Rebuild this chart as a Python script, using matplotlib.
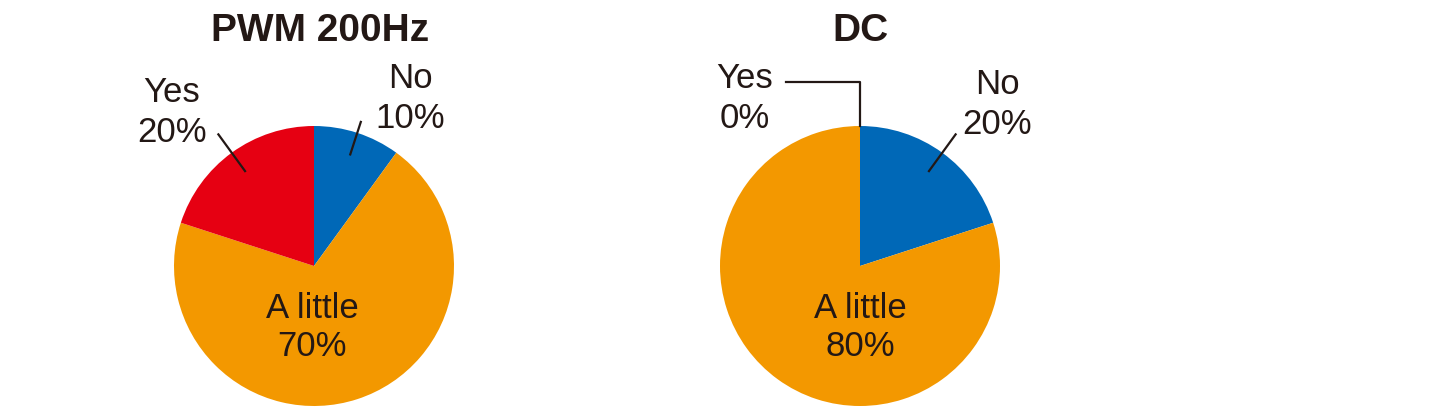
import numpy as np
import matplotlib
matplotlib.use("Agg")
import matplotlib.pyplot as plt

plt.rcParams["font.family"] = ["Liberation Sans", "DejaVu Sans"]

# survey answers, in clockwise order from 12 o'clock
categories = ["No", "A little", "Yes"]
pwm_values = [10, 70, 20]
dc_values = [20, 80, 0]
titles = ["PWM 200Hz", "DC"]

COLORS = ["#0068B7", "#F39800", "#E60012"]
INK = "#231815"
W, H = 1440, 420
R = 140


def px(x, y):
    # pixel coords (origin top-left) -> data coords (origin bottom-left)
    return x, H - y


def mid_angle(values, i):
    total = sum(values)
    start = 90 - 360 * sum(values[:i]) / total
    return np.deg2rad(start - 180 * values[i] / total)


def leader(ax, cx, cy, values, i, r_in, r_out):
    a = mid_angle(values, i)
    xs = [cx + r_in * R * np.cos(a), cx + r_out * R * np.cos(a)]
    ys = [cy + r_in * R * np.sin(a), cy + r_out * R * np.sin(a)]
    ax.plot(xs, ys, color=INK, lw=1.6, solid_capstyle="butt")


def label(ax, x, y, i, values):
    ax.text(*px(x, y), categories[i], ha="center", va="center", fontsize=25, color=INK)
    ax.text(*px(x, y + 39), f"{values[i]}%", ha="center", va="center", fontsize=25, color=INK)


fig = plt.figure(figsize=(W / 100, H / 100), dpi=100)
ax = fig.add_axes([0, 0, 1, 1])

centers = [px(314, 266), px(860, 266)]
for (cx, cy), vals, title in zip(centers, [pwm_values, dc_values], titles):
    ax.pie(vals, colors=COLORS, startangle=90, counterclock=False,
           center=(cx, cy), radius=R, wedgeprops=dict(linewidth=0))
    ax.text(cx + (6 if title == titles[0] else 0), H - 31, title, ha="center", va="center",
            fontsize=28, fontweight="bold", color=INK)

# left pie labels
(lx, ly), (rx, ry) = centers
label(ax, 410, 79, 0, pwm_values)
leader(ax, lx, ly, pwm_values, 0, 0.83, 1.09)
label(ax, 172, 93, 2, pwm_values)
leader(ax, lx, ly, pwm_values, 2, 0.83, 1.17)
label(ax, 312, 308, 1, pwm_values)

# right pie labels
label(ax, 997, 85, 0, dc_values)
leader(ax, rx, ry, dc_values, 0, 0.83, 1.17)
label(ax, 860, 308, 1, dc_values)
label(ax, 745, 79, 2, dc_values)
ax.plot([786, rx, rx], [H - 82, H - 82, ry + R], color=INK, lw=1.6)

ax.set_xlim(0, W)
ax.set_ylim(0, H)
ax.set_aspect("equal")
ax.axis("off")

fig.savefig("out.png", dpi=100)
